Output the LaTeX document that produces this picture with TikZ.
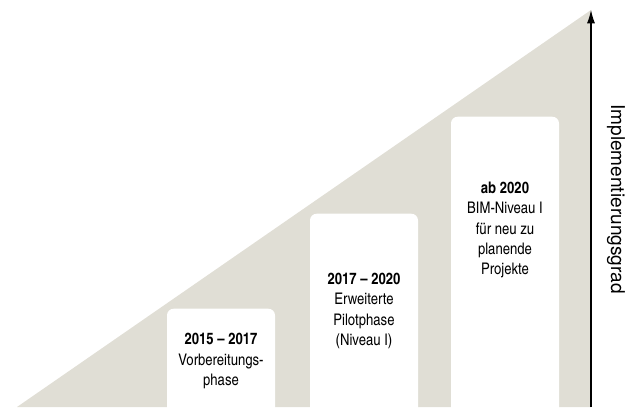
\documentclass[tikz,border=0pt]{standalone}
\usepackage{fontspec}
\setmainfont{TeX Gyre Heros}
\newfontfamily\condfont{texgyreheroscn}[Extension=.otf,UprightFont=*-regular,BoldFont=*-bold]
\usepackage{xcolor}
\usetikzlibrary{positioning}
\usetikzlibrary{arrows.meta}

\definecolor{wedge}{HTML}{E0DED5}

\begin{document}
\begin{tikzpicture}[x=0.75pt,y=0.75pt,>={Latex[length=10pt,width=6pt]},
                    phase box/.style={rectangle,fill=white,rounded corners=5pt,
                      minimum width=81pt,anchor=south,inner sep=0pt},
                    phase text/.style={align=center,font=\condfont\fontsize{12}{15.3}\selectfont}]
      \clip (0,0) rectangle (627,407);

      % wedge
      \coordinate (a) at (17,0);
      \coordinate (b) at (591,397);
      \coordinate (c) at (591,0);
      \fill[wedge] (a) -- (b) -- (c) -- cycle;

      \node[phase box, minimum height=81pt] (1) at (221,-10) {};
      \node[phase box, minimum height=152.25pt] (2) at (364,-10) {};
      \node[phase box, minimum height=225pt] (3) at (505,-10) {};

      \node[phase text] (4) at (221,46) {\textbf{2015 \textendash{} 2017}\\Vorbereitungs-\\phase};
      \node[phase text] (5) at (364,96) {\textbf{2017 \textendash{} 2020}\\Erweiterte\\Pilotphase\\(Niveau I)};
      \node[phase text] (6) at (505,177) {\textbf{ab 2020}\\BIM-Niveau I\\für neu zu\\planende\\Projekte};

      % axis
      \draw[->,line width=0.8pt] (c) -- (b);
      \node[rotate=-90,font=\fontsize{14.3}{17}\selectfont] (7) at (616,208) {Implementierungsgrad};

    \end{tikzpicture}
\end{document}
